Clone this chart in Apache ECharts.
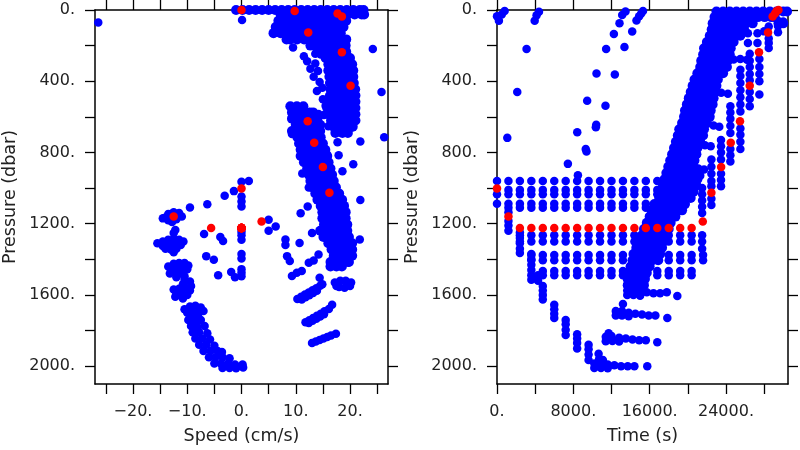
<!DOCTYPE html>
<html>
<head>
<meta charset="utf-8">
<script src="https://cdn.jsdelivr.net/npm/echarts@6/dist/echarts.min.js"></script>
<style>html,body{margin:0;padding:0;background:#fff;}#c{width:800px;height:450px;}</style>
</head>
<body>
<div id="c"></div>
<script>
// ---------- tick values ----------
const speedTicks = [-25,-20,-15,-10,-5,0,5,10,15,20,25];
const speedLabels = [-20,-10,0,10,20];
const timeTicks = [0,4000,8000,12000,16000,20000,24000,28000];
const timeLabels = [0,8000,16000,24000];
const pressTicks = [0,200,400,600,800,1000,1200,1400,1600,1800,2000];
const pressLabels = [0,400,800,1200,1600,2000];

// ---------- red points (shared samples) ----------
const redPressure = [1002,1159,1224,1224,1224,1224,1224,1224,1224,1224,1224,1224,1224,1224,1224,1224,1224,1224,1187,1026,881,746,625,425,237,126,37,19,5,0];
const redTime = [0,1200,2400,3600,4800,6000,7200,8400,9600,10800,12000,13200,14400,15600,16800,18000,19200,20400,21570,22470,23490,24500,25470,26490,27460,28410,28890,29140,29310,29500];
const redSpeed = [0,-12.5,-5.6,0,0,0,0,0,0,0,0,0,0,0,0,0,0,0,3.7,16.2,15,13.4,12.2,20.1,18.5,12.3,18.5,17.7,9.8,0];

// ---------- left panel: speed vs pressure (rows: [pressure, speeds...]) ----------
const leftUpperRows = [
 [0,-1,0.2,1.4,2.6,3.8,5,6.2,7.4,8.6,9.8,11,12.2,13.4,14.6,15.8,17,18.2,19.4,20.6,21.8,22.5],
 [25,7.2,7.85,9.15,10.45,11.75,13.05,14.35,15.65,16.95,18.25,19.55,20.85,22.15,22.6],
 [60,6.8,8.1,9.4,10.7,12,13.3,14.6,15.9,17.2,18.5,19.3],
 [95,6.3,6.95,8.25,9.55,10.85,12.15,13.45,14.75,16.05,17.35,18.65,18.8],
 [130,5.9,7.2,8.5,9.8,11.1,12.4,13.7,15,16.3,17.6,18.3],
 [165,8.3,8.95,10.25,11.55,12.85,14.15,15.45,16.75,18.05,19.3],
 [200,12.7,14,15.3,16.6,17.9,19.2],
 [235,15.4,16.05,17.35,18.65,19.3],
 [270,15.5,16.8,18.1,19.4,20],
 [305,16,16.65,17.95,19.25,20.4],
 [340,16,17.3,18.6,19.9,20.6],
 [375,16.2,16.85,18.15,19.45,20.6],
 [410,16.3,17.6,18.9,20.2,20.7],
 [445,16.4,17.05,18.35,19.65,20.95],
 [480,16.3,17.6,18.9,20.2,21],
 [515,16,16.65,17.95,19.25,20.55,21],
 [550,15.8,17.1,18.4,19.7,21],
 [585,16,16.65,17.95,19.25,20.55,21],
 [620,16.5,17.8,19.1,20.4,21],
 [655,17,17.65,18.95,20.25,20.5],
 [690,17.3,18.6,19.6]
];
const leftMiddleRows = [
 [540,9,10.2,11.4],
 [575,9.3,9.95,11.25,12.55,13.2],
 [610,9.3,10.6,11.9,13.2,14],
 [645,10,10.65,11.95,13.25,14.5],
 [680,9.3,10.6,11.9,13.2,14.5],
 [715,10.3,10.95,12.25,13.55,14.6],
 [750,10.6,11.9,13.2,14.5,15],
 [785,10.9,11.55,12.85,14.15,15.45],
 [820,10.9,12.2,13.5,14.8,15.8],
 [855,11.5,12.15,13.45,14.75,16.05],
 [890,12.1,13.4,14.7,16,16.4],
 [925,12.4,13.05,14.35,15.65,16.7],
 [960,12.7,14,15.3,16.6,17],
 [995,13,13.65,14.95,16.25,17.4],
 [1030,13.6,14.9,16.2,17.5,18],
 [1065,14,14.65,15.95,17.25,18.55],
 [1100,14.6,15.9,17.2,18.5,18.9],
 [1135,14.9,15.55,16.85,18.15,19.2],
 [1170,14.9,16.2,17.5,18.8,19.2],
 [1205,15.2,15.85,17.15,18.45,19.5],
 [1240,14.5,15.8,17.1,18.4,19.5],
 [1275,15.1,15.75,17.05,18.35,19.65,19.8],
 [1310,16,17.3,18.6,19.9,20.4],
 [1345,16.6,17.25,18.55,19.85,20.4],
 [1380,17,18.3,19.6,20.4],
 [1415,16.4,17.05,18.35,19.65,19.8],
 [1440,16.4,17.5,18.5]
];
const leftScatter = [
 [-26.4,70],[0.1,56],[24.2,219],[25.8,460],[26.3,714],[21.9,738],[20.6,866],[18.6,905],[17.9,816],[17.7,742],[16,653],[21.9,1067],[21.8,1289],[15.7,807],
 [9.5,210],[11.5,260],[12.1,288],[13.6,300],[12.7,330],[14.1,342],[13.3,375],[14.4,404],[14.9,436],[13.9,455],[15,501],[15.5,538],[14.2,584],[15.2,590],[13.6,245],[14.6,250],[13.9,225],
 [9.3,566],[9.3,696],[11.2,918],[12.4,996],[10.9,1141],[12.2,1104],[13,1252],[10.7,1308],[8.1,1289],[8.1,1320],[8.4,1382],[8.9,1410],[12.4,1419],[13.3,1406],[14.2,1373],[9.3,1493],[10.2,1475],[11.1,1465],[14.4,1503],[14.9,1540]
];
const leftDeepRight = [
 [17.2,1530],[18.2,1520],[19.2,1520],[20.2,1530],[18,1555],[19,1560],[17.5,1550],[20,1550],
 [10.3,1623],[11,1610],[11.7,1598],[12.4,1586],[13.1,1574],[13.8,1562],[14.5,1549],[11.1,1625],[11.8,1613],[12.5,1601],[13.2,1589],[13.9,1577],
 [16.7,1655],
 [11.8,1753],[12.5,1742],[13.2,1730],[13.9,1717],[14.6,1705],[15.3,1692],[16.1,1679],[12.4,1757],[13.1,1745],[13.8,1733],[14.5,1721],[15.2,1709],
 [13,1870],[13.7,1862],[14.4,1853],[15.1,1845],[15.8,1836],[16.5,1828],[17.4,1818]
];
const leftDeepLeft = [
 [0,965],[1.35,960],[0,1047],[0,1075],[0,1103],[-1.4,1017],[-3.1,1043],[-6.3,1091],[-9.5,1109],
 [-14,1165],[-13.5,1145],[-12.5,1135],[-11.5,1140],[-11,1160],[-12,1175],[-13.5,1180],[-14.5,1170],[-12.8,1190],
 [-12.2,1235],[-12.5,1252],
 [-15.5,1310],[-14.5,1300],[-13.5,1290],[-12.5,1285],[-11.5,1290],[-10.7,1300],[-11.2,1320],[-12.3,1320],[-13.4,1320],[-14.5,1325],[-13,1345],[-12,1340],[-14,1340],[-12.5,1360],
 [-6.9,1258],[-3.9,1274],[-3.4,1297],[0,1245],[0,1265],[0,1290],[0,1370],[0,1395],[0,1455],[0,1475],[0,1495],[-1.2,1500],[-6.5,1382],[-5.1,1402],[-4.3,1490],[-1.9,1471],
 [5,1178],[6.3,1215],[5,1239],
 [-13.5,1440],[-12.5,1425],[-11.5,1420],[-10.5,1420],[-9.8,1435],[-10,1455],[-11,1460],[-12,1455],[-13,1460],[-13.2,1480],[-12,1480],[-11,1480],[-10.5,1495],[-12,1500],
 [-10.5,1515],[-9.5,1525],[-10.8,1540],[-9.3,1550],
 [-12.5,1570],[-11.5,1565],[-10.5,1560],[-9.5,1575],[-12,1595],[-11,1590],[-10,1600],[-12.2,1610],[-10.8,1620],
 [-10.5,1680],[-9.5,1665],[-8.5,1660],[-7.5,1670],[-7,1690],[-8,1700],[-9,1700],[-10,1700],[-9,1720],[-8,1720],
 [-9.8,1740],[-8.6,1745],[-7.5,1740],
 [-9.3,1775],[-8.1,1780],[-6.8,1775],
 [-9,1810],[-7.8,1810],[-6.3,1815],
 [-8.5,1845],[-7.2,1845],[-5.8,1850],
 [-7.8,1880],[-6.5,1880],[-5,1885],
 [-7,1915],[-5.7,1915],[-4.4,1915],[-3.6,1920],
 [-6,1950],[-4.8,1950],[-3.5,1950],[-2.2,1955],
 [-5,1985],[-3.8,1985],[-2.5,1985],[-1.2,1990],[0.2,1990],
 [-3.5,2010],[-2.2,2010],[-1,2012],[0.3,2008]
];

// ---------- right panel: time vs pressure ----------
const rightSparse = [
 [200,60],[500,25],[800,5],[0,35],[4400,10],[4150,30],[3950,60],[3100,219],[2125,460],[1080,718],
 [7430,864],[8410,686],[9380,794],[9300,780],[9450,510],[10360,659],[10400,645],[10430,356],[11440,219],[12250,135],[12840,74],[13120,28],[13470,9],
 [11370,538],[12350,362],[13360,208],[14170,121],[14620,59],[14900,35],[15110,19],[15300,5],[8480,928]
];
// rows: [pressure, times...]
const rightGridRows = [
 [960,0,1200,2400,3600,4800,6000,7200,8400,9600,10800,12000,13200,14400,15600,16800],
 [1010,1200,2400,3600,4800,6000,7200,8400,9600,10800,12000,13200,14400,15600,16800],
 [1035,0,1200,2400,3600,4800,6000,7200,8400,9600,10800,12000,13200,14400,15600,16800],
 [1088,0,1200,2400,3600,4800,6000,7200,8400,9600,10800,12000,13200,14400,15600,16800],
 [1110,1200,2400,3600,4800,6000,7200,8400,9600,10800,12000,13200,14400,15600,16800],
 [1265,2400,3600,4800,6000,7200,8400,9600,10800,12000,13200,14400,15600,16800,18000,19200,20400],
 [1300,2400,3600,4800,6000,7200,8400,9600,10800,12000,13200,14400,15600,16800,18000,19200,20400],
 [1375,3600,4800,6000,7200,8400,9600,10800,12000,13200,14400,15600,16800,18000,19200,20400,21600],
 [1405,3600,4800,6000,7200,8400,9600,10800,12000,13200,14400,15600,16800,18000,19200,20400,21600],
 [1465,4800,6000,7200,8400,9600,10800,12000,13200,14400,15600,16800,18000,19200,20400],
 [1490,4800,6000,7200,8400,9600,10800,12000,13200,14400,15600,16800,18000,19200,20400]
];
const rightDescent = [
 [1200,1135],[1200,1185],[1200,1210],[1200,1240],
 [2400,1250],[2400,1280],[2400,1310],[2400,1340],[2400,1365],
 [3600,1370],[3600,1400],[3600,1430],[3600,1460],[3600,1490],[3600,1515],[4300,1490],[4300,1520],
 [4800,1550],[4800,1575],[4800,1600],[4800,1625],
 [6000,1655],[6000,1680],[6000,1705],[6000,1730],
 [7200,1740],[7200,1765],[7200,1795],[7200,1825],
 [8400,1820],[8400,1845],[8400,1870],[8400,1900],
 [9600,1880],[9600,1905],[9600,1935],[9600,1965]
];
const rightBandRows = [
 [8,23000,23700,24400,25100,25800,26500,27200,27900,28600,29300,30000,30400],
 [40,22800,23150,23850,24550,25250,25950,26650,27350,28050,28750,29100],
 [75,22600,23300,24000,24700,25400,26100,26800,29500,30000],
 [110,22500,22850,23550,24250,24950,25650,25900],
 [145,22300,23000,23700,24400,25100,25500],
 [180,22000,22350,23050,23750,24450,24800],
 [215,21700,22400,23100,23800,24500],
 [250,21600,21950,22650,23350,24050,24400],
 [285,21400,22100,22800,23500,24200],
 [320,21300,21650,22350,23050,23750,24100],
 [355,21000,21700,22400,23100,23700],
 [390,20700,21050,21750,22450,23150],
 [425,20500,21200,21900,22600,23000],
 [460,20300,20650,21350,22050,22750,22900],
 [495,20100,20800,21500,22200,22700],
 [530,19900,20250,20950,21650,22350,22600],
 [565,19700,20400,21100,21800,22400],
 [600,19600,19950,20650,21350,22050,22300],
 [635,19400,20100,20800,21500,22000],
 [670,19100,19450,20150,20850,21550,21700],
 [705,18950,19650,20350,21050,21600],
 [740,18750,19100,19800,20500,21200,21300],
 [775,18550,19250,19950,20650,21000],
 [810,18350,18700,19400,20100,20800,20900],
 [845,18150,18850,19550,20250,20700],
 [880,17950,18300,19000,19700,20400,20600],
 [915,17750,18450,19150,19850,20550,20950],
 [950,17550,17900,18600,19300,20000,20700,21000],
 [985,17400,18100,18800,19500,20200,20900],
 [1020,17200,17550,18250,18950,19650,20350,20600],
 [1055,17000,17700,18400,19100,19800,20300],
 [1090,16500,16850,17550,18250,18950,19650,19700],
 [1125,16200,16900,17600,18300,19000,19400],
 [1160,16000,16350,17050,17750,18450,18700],
 [1195,15700,16400,17100,17800,18200],
 [1230,15400,15750,16450,17150,17850,18000],
 [1265,15200,15900,16600,17300,17700],
 [1300,14900,15250,15950,16650,17350,17500],
 [1335,14600,15300,16000,16700,17300],
 [1370,14300,14650,15350,16050,16750,17100],
 [1405,14200,14900,15600,16300,16900],
 [1440,14000,14350,15050,15750,16000],
 [1475,13800,14500,15200,15700],
 [1510,13700,14050,14750,15450,15500],
 [1545,13700,14400,15100,15400]
];
const rightStair = [
 [21500,1000],[21500,1035],[21500,1070],[21500,1105],[21500,1140],[21500,1265],[21500,1300],[21500,1340],
 [22470,840],[22470,880],[22470,920],[22470,960],[22470,990],[22470,1060],[22470,1095],
 [23480,730],[23480,765],[23480,800],[23480,840],[23480,920],[23480,955],[23480,990],
 [24460,540],[24460,575],[24460,610],[24460,650],[24460,690],[24460,780],[24460,815],[24460,850],
 [25510,335],[25510,370],[25510,410],[25510,450],[25510,490],[25510,530],[25510,570],[25510,665],[25510,700],[25510,740],[25510,780],
 [26490,245],[26490,285],[26490,320],[26490,360],[26490,395],[26490,460],[26490,500],[26490,540],
 [27500,275],[27500,320],[27500,360],[27500,400],[27500,475],
 [28480,93],[28480,160],[28480,185],[28480,213],
 [29450,60],[29450,90],[29450,125],[30000,65],
 [24800,278],[25500,275],[26200,280],[23500,464],[24200,470],[22700,649],[23300,655],[21800,760],[22400,765],[21100,890],[21700,895],[21300,930],
 [26300,130],[26300,185],[27300,130],[27300,185],[28000,120]
];
const rightStreaks = [
 [13650,1575],[13650,1600],[14300,1570],[14300,1600],[15000,1580],[15000,1605],[15700,1585],[16400,1590],[17100,1590],[17800,1585],[18900,1606],[13800,1555],
 [12450,1690],[12450,1715],[13100,1690],[13100,1715],[13800,1700],[13800,1720],[14500,1705],[15200,1710],[15900,1715],[16600,1715],[17850,1730],[13200,1651],
 [11400,1835],[11400,1860],[12000,1830],[12100,1858],[12800,1840],[12800,1862],[13500,1845],[14200,1850],[14900,1855],[15600,1855],[16800,1865],[11700,1815],
 [10200,1985],[10200,2010],[10900,1985],[10900,2010],[11600,1990],[11600,2012],[12300,1995],[13000,2000],[13700,2000],[14400,2000],[15750,2000],[10650,1930],[10700,1960],[11100,1965]
];

// ---------- build series data ----------
function fromRows(rows) { // rows of [pressure, x...] -> [x, pressure]
  const out = [];
  rows.forEach(r => { for (let i = 1; i < r.length; i++) out.push([r[i], r[0]]); });
  return out;
}
const leftDense = fromRows(leftUpperRows).concat(fromRows(leftMiddleRows));
const leftBlue = leftScatter.concat(leftDeepRight, leftDeepLeft);
const rightDense = fromRows(rightBandRows);
const rightBlue = rightSparse.concat(fromRows(rightGridRows), rightDescent, rightStair, rightStreaks);
const leftRed = redSpeed.map((v, i) => [v, redPressure[i]]);
const rightRed = redTime.map((t, i) => [t, redPressure[i]]);

const FONT = 'DejaVu Sans';
const TXT = '#222';
const lineStyle = { color: '#000', width: 1.5 };
const tickStyle = { color: '#000', width: 1.3 };
const numFmt = v => (v < 0 ? '\u2212' + (-v) : String(v)) + '.';

function xAxisDef(grid, min, max, ticks, labels, name, top) {
  return {
    gridIndex: grid, type: 'value', min: min, max: max, position: top ? 'top' : 'bottom',
    axisLine: { show: true, onZero: false, lineStyle: lineStyle },
    axisTick: { show: true, length: 10, customValues: ticks, lineStyle: tickStyle },
    axisLabel: top ? { show: false } : { show: true, customValues: labels, formatter: numFmt, margin: 20, fontFamily: FONT, fontSize: 16, color: TXT },
    splitLine: { show: false },
    name: top ? '' : name, nameLocation: 'middle', nameGap: 43,
    nameTextStyle: { fontFamily: FONT, fontSize: 17.5, color: TXT }
  };
}
function yAxisDef(grid, right) {
  return {
    gridIndex: grid, type: 'value', inverse: true, min: 0, max: 2100, position: right ? 'right' : 'left',
    axisLine: { show: true, onZero: false, lineStyle: lineStyle },
    axisTick: { show: true, length: 10, customValues: pressTicks, lineStyle: tickStyle },
    axisLabel: right ? { show: false } : { show: true, customValues: pressLabels, formatter: numFmt, margin: 20, fontFamily: FONT, fontSize: 16, color: TXT },
    splitLine: { show: false },
    name: right ? '' : 'Pressure (dbar)', nameLocation: 'middle', nameGap: 76,
    nameTextStyle: { fontFamily: FONT, fontSize: 17.5, color: TXT }
  };
}
function sc(data, color, xi, yi, size) {
  return { type: 'scatter', data: data, xAxisIndex: xi, yAxisIndex: yi, symbol: 'circle', symbolSize: size,
    itemStyle: { color: color, opacity: 1 }, clip: true, silent: true, emphasis: { disabled: true } };
}

const chart = echarts.init(document.getElementById('c'), null, { renderer: 'canvas' });
chart.setOption({
  animation: false,
  backgroundColor: '#fff',
  grid: [
    { left: 95, top: 10, width: 293, height: 377 },
    { left: 497, top: 10, width: 291, height: 377 }
  ],
  xAxis: [
    xAxisDef(0, -27, 27, speedTicks, speedLabels, 'Speed (cm/s)', false),
    xAxisDef(0, -27, 27, speedTicks, speedLabels, '', true),
    xAxisDef(1, 0, 30500, timeTicks, timeLabels, 'Time (s)', false),
    xAxisDef(1, 0, 30500, timeTicks, timeLabels, '', true)
  ],
  yAxis: [ yAxisDef(0, false), yAxisDef(0, true), yAxisDef(1, false), yAxisDef(1, true) ],
  series: [
    sc(leftDense, '#0000ff', 0, 0, 10),
    sc(leftBlue, '#0000ff', 0, 0, 8.5),
    sc(leftRed, '#ff0000', 0, 0, 8.5),
    sc(rightDense, '#0000ff', 2, 2, 10),
    sc(rightBlue, '#0000ff', 2, 2, 8.5),
    sc(rightRed, '#ff0000', 2, 2, 8.5)
  ]
});
</script>
</body>
</html>
